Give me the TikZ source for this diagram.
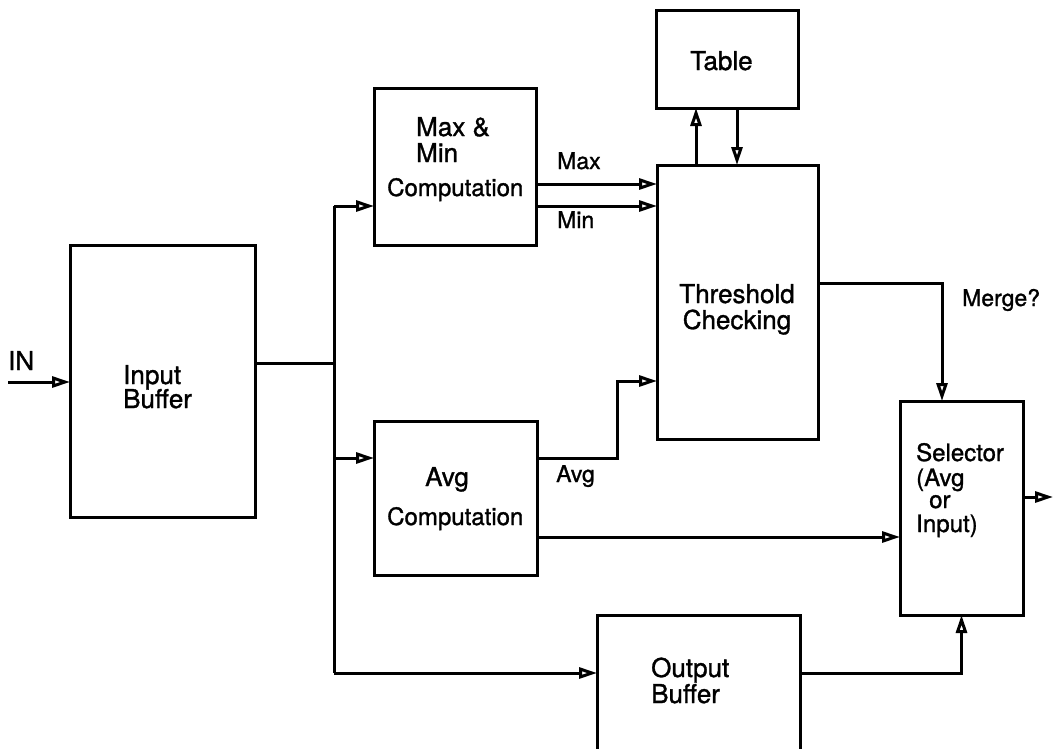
\documentclass[tikz,border=0pt]{standalone}
\usepackage{fontspec}
\setmainfont{TeX Gyre Heros}
\newfontfamily\heavy{TeX Gyre Heros}[FakeBold=1.2]
\usetikzlibrary{arrows.meta}
\tikzset{
  box/.style={draw, line width=3pt, rectangle, inner sep=0pt, outer sep=0pt},
  wire/.style={line width=3pt},
  arr/.style={line width=3pt, -{Triangle[open,length=18pt,width=11pt]}},
  big/.style={inner sep=0pt, anchor=base west, font=\heavy\fontsize{26}{30}\selectfont},
  mid/.style={inner sep=0pt, anchor=base west, font=\heavy\fontsize{24}{28}\selectfont},
  lbl/.style={inner sep=0pt, anchor=base west, font=\heavy\fontsize{23}{27}\selectfont}
}
\begin{document}
\begin{tikzpicture}[x=1pt,y=-1pt]
\useasboundingbox (0,0) rectangle (1053,748);
\clip (0,0) rectangle (1053,748);
% boxes
\node[box, minimum width=185pt, minimum height=272pt] (ib) at (162.5,381) {};
\node[box, minimum width=162pt, minimum height=157pt] (mm) at (455,166.5) {};
\node[box, minimum width=163pt, minimum height=154pt] (avg) at (455.5,498) {};
\node[box, minimum width=142pt, minimum height=98pt] (tb) at (727,59) {};
\node[box, minimum width=161pt, minimum height=274pt] (th) at (737.5,302) {};
\node[box, minimum width=123pt, minimum height=214pt] (sel) at (961.5,508) {};
\node[box, minimum width=203pt, minimum height=150pt] (ob) at (698.5,690) {};
% texts
\node[big] (tin) at (8,370) {IN};
\node[big] (tib1) at (123,384) {Input};
\node[big] (tib2) at (123,408) {Buffer};
\node[big] (tmm1) at (416,136) {Max \&};
\node[big] (tmm2) at (416,162) {Min};
\node[mid] (tmm3) at (387,196) {Computation};
\node[big] (tav1) at (425,486) {Avg};
\node[mid] (tav2) at (387,525) {Computation};
\node[big] (ttb) at (690,70) {Table};
\node[big, anchor=base] (tth1) at (737,303) {Threshold};
\node[big, anchor=base] (tth2) at (737,329) {Checking};
\node[big] (tob1) at (651,677) {Output};
\node[big] (tob2) at (651,703) {Buffer};
\node[mid] (ts1) at (916,461) {Selector};
\node[mid] (ts2) at (916,486) {(Avg};
\node[mid] (ts3) at (929,508) {or};
\node[mid] (ts4) at (916,532) {Input)};
\node[lbl] (lmax) at (557,169) {Max};
\node[lbl] (lmin) at (557,228) {Min};
\node[lbl] (lavg) at (556,482) {Avg};
\node[lbl] (lmerge) at (962,306) {Merge?};
% coordinates
\coordinate (inl) at (8,382);
\coordinate (bus) at (334,363);
\coordinate (btop) at (334,206);
\coordinate (bmid) at (334,458);
\coordinate (bbot) at (334,673);
\coordinate (amid) at (617,458);
\coordinate (aup) at (617,381);
\coordinate (mrg) at (942,283);
\coordinate (obr) at (961.5,673);
\coordinate (outr) at (1053,497);
% connectors
\draw[arr] (inl) -- (ib.west |- inl);
\draw[wire] (ib.east |- bus) -- (bus);
\draw[wire] (btop) -- (bbot);
\draw[arr] (btop) -- (mm.west |- btop);
\draw[arr] (bmid) -- (avg.west |- bmid);
\draw[arr] (bbot) -- (ob.west |- bbot);
\draw[arr] (mm.east |- 0,184) -- (th.west |- 0,184);
\draw[arr] (mm.east |- 0,206) -- (th.west |- 0,206);
\draw[arr] (th.north -| 696,0) -- (tb.south -| 696,0);
\draw[arr] (tb.south -| 737,0) -- (th.north -| 737,0);
\draw[arr] (avg.east |- amid) -- (amid) -- (aup) -- (th.west |- aup);
\draw[arr] (avg.east |- 0,537) -- (sel.west |- 0,537);
\draw[arr] (th.east |- mrg) -- (mrg) -- (mrg |- sel.north);
\draw[arr] (ob.east |- obr) -- (obr) -- (sel.south);
\draw[arr] (sel.east |- outr) -- (outr);
\end{tikzpicture}
\end{document}
